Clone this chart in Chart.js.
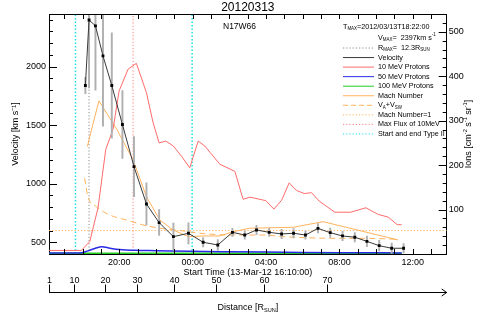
<!DOCTYPE html>
<html>
<head>
<meta charset="utf-8">
<script src="https://cdn.jsdelivr.net/npm/chart.js@4.4.1/dist/chart.umd.min.js"></script>
<style>
  html, body { margin: 0; padding: 0; background: #ffffff; }
  canvas { display: block; }
</style>
</head>
<body>
<canvas id="chart" width="496" height="327"></canvas>
<script>
// ---------------------------------------------------------------
// DATA (time in hours from 13-Mar-12 00:00)
// ---------------------------------------------------------------
const timeMin = 16.1667;
const timeMax = 37.85;
const velMin = 400;
const velMax = 2448;
const fluxMin = 0;
const fluxMax = 540;

const timeTickVals = [20, 24, 28, 32, 36];
const timeTickLabels = ['20:00', '00:00', '04:00', '08:00', '12:00'];
const velTickVals = [500, 1000, 1500, 2000];
const fluxTickVals = [100, 200, 300, 400, 500];

// speed from height-time points
const velTime = [18.15, 18.35, 18.70, 19.11, 19.59, 20.17, 20.80, 21.48, 22.17, 22.95, 23.77, 24.57, 25.37, 26.17,
                 26.84, 27.48, 28.17, 28.85, 29.50, 30.15, 30.83, 31.50, 32.17, 32.84, 33.50, 34.17, 34.85, 35.50];
const velocity = [1838, 2397, 2347, 2091, 1838, 1505, 1146, 827, 668, 548, 577, 500, 477, 585,
                  562, 605, 585, 571, 577, 562, 619, 582, 554, 543, 508, 471, 449, 449];
const velErr = [70, 580, 550, 600, 450, 290, 256, 180, 110, 115, 90, 40, 45, 35,
                35, 40, 35, 40, 40, 35, 40, 40, 40, 40, 45, 45, 45, 40];

// proton fluxes (right axis)
const p10Time = [16.17, 17.93, 18.39, 18.84, 19.26, 19.66, 19.99, 20.48, 20.93, 21.48, 21.84, 22.17, 22.53, 22.95,
                 23.39, 23.84, 24.30, 24.66, 25.48, 26.30, 26.75, 27.12, 27.99, 28.43, 28.85, 29.26, 29.66, 30.08,
                 30.48, 30.90, 31.75, 32.61, 33.44, 34.12, 34.66, 35.15, 35.39];
const p10Flux = [8, 8, 28, 104, 235, 281, 367, 416, 429, 363, 296, 250, 254, 243,
                 220, 194, 254, 243, 202, 186, 123, 128, 120, 101, 121, 160, 143, 136,
                 138, 119, 94, 94, 104, 89, 83, 66, 66];
const p50Time = [16.17, 17.8, 18.3, 18.7, 19.04, 19.5, 20.0, 21.1, 22.0, 23.8, 26.0, 29.0, 32.0, 35.4];
const p50Flux = [2, 2, 7, 13, 16.5, 13, 10, 8, 7.5, 6, 5, 4, 3, 2.5];
const p100Time = [16.17, 20.0, 25.0, 30.0, 35.4];
const p100Flux = [0.6, 0.6, 0.5, 0.5, 0.5];

// Mach number and Alfven + solar wind speed (velocity units)
const machTime = [18.26, 18.48, 18.89, 19.88, 20.75, 21.48, 22.21, 22.93, 23.77, 24.57, 25.48, 26.20, 27.11, 29.48, 31.11, 35.20];
const machVel = [1317, 1459, 1707, 1459, 1203, 889, 690, 605, 548, 554, 554, 590, 620, 628, 676, 520];
const vaTime = [18.11, 18.29, 18.75, 19.48, 20.39, 21.29, 22.21, 23.12, 24.39, 26.20, 27.85, 28.93, 30.2, 31.57, 33.3, 35.12];
const vaVel = [1047, 889, 804, 733, 690, 648, 620, 605, 577, 562, 562, 548, 539, 534, 534, 526];
const machOneVel = 600;

// event markers
const typeIITimes = [17.61, 23.97];
const rMaxTime = 18.35;
const maxFluxTime = 20.75;

// distance axis (R_sun) placed at times
const distLabels = ['1', '10', '20', '30', '40', '50', '60', '70'];
const distTimes = [16.17, 17.55, 19.20, 20.99, 22.97, 25.26, 27.88, 31.31];

// ---------------------------------------------------------------
// HELPERS
// ---------------------------------------------------------------
const FONT = '"Liberation Sans", Arial, Helvetica, sans-serif';
const zip = (xs, ys) => xs.map((x, i) => ({ x: x, y: ys[i] }));
const vline = t => [{ x: t, y: velMin }, { x: t, y: velMax }];

// text with sub / superscripts
function richText(ctx, parts, x, y, size, align) {
    let total = 0;
    ctx.textAlign = 'left';
    parts.forEach(p => {
        ctx.font = (p.sub || p.sup ? size * 0.62 : size) + 'px ' + FONT;
        p.w = ctx.measureText(p.t).width;
        total += p.w;
    });
    let cx = align === 'center' ? x - total / 2 : (align === 'right' ? x - total : x);
    parts.forEach(p => {
        const s = p.sub || p.sup ? size * 0.62 : size;
        ctx.font = s + 'px ' + FONT;
        const dy = p.sub ? size * 0.3 : (p.sup ? -size * 0.35 : 0);
        ctx.fillText(p.t, cx, y + dy);
        cx += p.w;
    });
    return total;
}

function seg(ctx, x1, y1, x2, y2) {
    ctx.beginPath();
    ctx.moveTo(x1, y1);
    ctx.lineTo(x2, y2);
    ctx.stroke();
}

// ---------------------------------------------------------------
// STYLES
// ---------------------------------------------------------------
const C = {
    vel: '#3a3a3a',
    err: '#b0b0b0',
    p10: '#ff6b6b',
    p50: '#2a2ae6',
    p100: '#22cc22',
    mach: '#ffb25c',
    cyan: '#1ee0e8',
    rmax: '#8c8c8c',
    maxFlux: '#ff7f7f'
};

const legendRows = [
    { parts: [{ t: 'R' }, { t: 'MAX', sub: true }, { t: '=  12.3R' }, { t: 'SUN', sub: true }], color: C.rmax, dash: [1.2, 2] },
    { parts: [{ t: 'Velocity' }], color: C.vel, dash: [] },
    { parts: [{ t: '10 MeV Protons' }], color: C.p10, dash: [] },
    { parts: [{ t: '50 MeV Protons' }], color: C.p50, dash: [] },
    { parts: [{ t: '100 MeV Protons' }], color: C.p100, dash: [] },
    { parts: [{ t: 'Mach Number' }], color: C.mach, dash: [] },
    { parts: [{ t: 'V' }, { t: 'A', sub: true }, { t: '+V' }, { t: 'SW', sub: true }], color: C.mach, dash: [5, 3] },
    { parts: [{ t: 'Mach Number=1' }], color: C.mach, dash: [1.2, 2] },
    { parts: [{ t: 'Max Flux of 10MeV' }], color: C.maxFlux, dash: [1.2, 2] },
    { parts: [{ t: 'Start and end Type II' }], color: C.cyan, dash: [1.2, 2] }
];

// ---------------------------------------------------------------
// PLUGIN: IDL-like frame, inward ticks, annotations, distance axis
// ---------------------------------------------------------------
const idlDecor = {
    id: 'idlDecor',
    afterDraw(chart) {
        const { ctx, chartArea: a, scales } = chart;
        const x = scales.x, y = scales.y, y2 = scales.y2;
        ctx.save();
        ctx.strokeStyle = '#000';
        ctx.fillStyle = '#000';
        ctx.lineWidth = 1;
        ctx.setLineDash([]);

        // top frame line
        seg(ctx, a.left, a.top + 0.5, a.right, a.top + 0.5);

        // hour ticks, bottom and top
        for (let h = 17; h <= 37; h++) {
            const px = Math.round(x.getPixelForValue(h)) + 0.5;
            seg(ctx, px, a.bottom, px, a.bottom - 5);
            seg(ctx, px, a.top, px, a.top + 5);
        }
        // velocity ticks (left)
        for (let v = 500; v <= 2400; v += 100) {
            const py = Math.round(y.getPixelForValue(v)) + 0.5;
            const len = v % 500 === 0 ? 8 : 4;
            seg(ctx, a.left, py, a.left + len, py);
        }
        // flux ticks (right)
        for (let f = 20; f <= 520; f += 20) {
            const py = Math.round(y2.getPixelForValue(f)) + 0.5;
            const len = f % 100 === 0 ? 8 : 4;
            seg(ctx, a.right, py, a.right - len, py);
        }

        // title and region
        ctx.textBaseline = 'middle';
        ctx.textAlign = 'center';
        ctx.font = '12px ' + FONT;
        ctx.fillText('20120313', (a.left + a.right) / 2, 8);
        ctx.textAlign = 'left';
        ctx.font = '8.5px ' + FONT;
        ctx.fillText('N17W66', 223, 27);

        // legend
        const fs = 7.2;
        richText(ctx, [{ t: 'T' }, { t: 'MAX', sub: true }, { t: '=2012/03/13T18:22:00' }], 343, 27, fs, 'left');
        richText(ctx, [{ t: 'V' }, { t: 'MAX', sub: true }, { t: '=  2397km s' }, { t: '-1', sup: true }], 378, 37.7, fs, 'left');
        legendRows.forEach((r, i) => {
            const ly = 48 + i * 9.55;
            ctx.strokeStyle = r.color;
            ctx.lineWidth = 1;
            ctx.setLineDash(r.dash);
            seg(ctx, 343, ly, 374, ly);
            ctx.setLineDash([]);
            ctx.fillStyle = '#000';
            richText(ctx, r.parts, 378, ly, fs, 'left');
        });

        // right axis title (reads bottom to top)
        ctx.save();
        ctx.translate(469, (a.top + a.bottom) / 2);
        ctx.rotate(-Math.PI / 2);
        ctx.fillStyle = '#000';
        richText(ctx, [{ t: 'Ions [cm' }, { t: '-2', sup: true }, { t: ' s' }, { t: '-1', sup: true },
                       { t: ' sr' }, { t: '-1', sup: true }, { t: ']' }], 0, 0, 9, 'center');
        ctx.restore();

        // distance axis
        const dy = 292.5;
        ctx.strokeStyle = '#000';
        ctx.lineWidth = 1;
        seg(ctx, a.left, dy, a.right, dy);
        seg(ctx, a.right, dy, a.right - 5, dy - 3.5);
        seg(ctx, a.right, dy, a.right - 5, dy + 3.5);
        ctx.font = '9px ' + FONT;
        distTimes.forEach((t, i) => {
            const px = Math.round(x.getPixelForValue(t)) + 0.5;
            seg(ctx, px, dy, px, dy - 8);
            ctx.textAlign = 'center';
            ctx.fillText(distLabels[i], px, dy - 12);
        });
        richText(ctx, [{ t: 'Distance [R' }, { t: 'SUN', sub: true }, { t: ']' }], (a.left + a.right) / 2, 308, 9, 'center');

        ctx.restore();
    }
};

// ---------------------------------------------------------------
// CHART
// ---------------------------------------------------------------
const errBars = velTime.map((t, i) => ({ x: t, y: [velocity[i] - velErr[i], velocity[i] + velErr[i]] }));
const plainLabel = v => String(v);

new Chart(document.getElementById('chart').getContext('2d'), {
    type: 'line',
    data: {
        datasets: [
            {
                label: 'Velocity', data: zip(velTime, velocity), yAxisID: 'y',
                borderColor: C.vel, borderWidth: 1, pointStyle: 'rect', pointRadius: 2,
                pointBackgroundColor: '#000', pointBorderColor: '#000', pointBorderWidth: 0
            },
            {
                type: 'bar', label: 'Error', data: errBars, yAxisID: 'y',
                backgroundColor: C.err, barThickness: 1.3, grouped: false
            },
            {
                label: '10 MeV Protons', data: zip(p10Time, p10Flux), yAxisID: 'y2',
                borderColor: C.p10, borderWidth: 1, pointRadius: 0
            },
            {
                label: '50 MeV Protons', data: zip(p50Time, p50Flux), yAxisID: 'y2',
                borderColor: C.p50, borderWidth: 1.5, pointRadius: 0, cubicInterpolationMode: 'monotone'
            },
            {
                label: '100 MeV Protons', data: zip(p100Time, p100Flux), yAxisID: 'y2',
                borderColor: C.p100, borderWidth: 2.5, pointRadius: 0
            },
            {
                label: 'Mach Number', data: zip(machTime, machVel), yAxisID: 'y',
                borderColor: C.mach, borderWidth: 1, pointRadius: 0
            },
            {
                label: 'VA+VSW', data: zip(vaTime, vaVel), yAxisID: 'y',
                borderColor: C.mach, borderWidth: 1, borderDash: [6, 4], pointRadius: 0,
                cubicInterpolationMode: 'monotone'
            },
            {
                label: 'Mach Number=1', data: [{ x: timeMin, y: machOneVel }, { x: timeMax, y: machOneVel }], yAxisID: 'y',
                borderColor: C.mach, borderWidth: 1, borderDash: [1.2, 2], pointRadius: 0
            },
            {
                label: 'Max Flux of 10MeV', data: vline(maxFluxTime), yAxisID: 'y',
                borderColor: C.maxFlux, borderWidth: 1, borderDash: [1.2, 2], pointRadius: 0
            },
            {
                label: 'R max', data: vline(rMaxTime), yAxisID: 'y',
                borderColor: C.rmax, borderWidth: 1, borderDash: [1.2, 2], pointRadius: 0
            },
            {
                label: 'Type II start', data: vline(typeIITimes[0]), yAxisID: 'y',
                borderColor: C.cyan, borderWidth: 1.5, borderDash: [1.5, 2], pointRadius: 0
            },
            {
                label: 'Type II end', data: vline(typeIITimes[1]), yAxisID: 'y',
                borderColor: C.cyan, borderWidth: 1.5, borderDash: [1.5, 2], pointRadius: 0
            }
        ]
    },
    options: {
        responsive: false,
        animation: false,
        layout: { padding: { left: 0, right: 0, top: 14, bottom: 49 } },
        plugins: {
            legend: { display: false },
            tooltip: { enabled: false },
            title: { display: false }
        },
        scales: {
            x: {
                type: 'linear', position: 'bottom', min: timeMin, max: timeMax, offset: false,
                grid: { display: false, drawTicks: false },
                border: { display: true, color: '#000', width: 1 },
                afterBuildTicks: s => { s.ticks = timeTickVals.map(v => ({ value: v })); },
                afterFit: s => { s.height = 24; },
                ticks: {
                    autoSkip: false, maxRotation: 0, padding: 3, color: '#000',
                    font: { family: FONT, size: 9 },
                    callback: v => timeTickLabels[timeTickVals.indexOf(v)]
                },
                title: {
                    display: true, text: 'Start Time (13-Mar-12 16:10:00)', color: '#000',
                    font: { family: FONT, size: 9 }, padding: { top: 0, bottom: 0 }
                }
            },
            y: {
                type: 'linear', position: 'left', min: velMin, max: velMax,
                grid: { display: false, drawTicks: false },
                border: { display: true, color: '#000', width: 1 },
                afterBuildTicks: s => { s.ticks = velTickVals.map(v => ({ value: v })); },
                afterFit: s => { s.width = 49; },
                ticks: { autoSkip: false, padding: 3, color: '#000', font: { family: FONT, size: 9 }, callback: plainLabel },
                title: {
                    display: true, text: 'Velocity [km s\u207B\u00B9]', color: '#000',
                    font: { family: FONT, size: 9 }, padding: { top: 10, bottom: 0 }
                }
            },
            y2: {
                type: 'linear', position: 'right', min: fluxMin, max: fluxMax,
                grid: { display: false, drawTicks: false },
                border: { display: true, color: '#000', width: 1 },
                afterBuildTicks: s => { s.ticks = fluxTickVals.map(v => ({ value: v })); },
                afterFit: s => { s.width = 49.3; },
                ticks: { autoSkip: false, padding: 2, color: '#000', font: { family: FONT, size: 9 }, callback: plainLabel }
            }
        }
    },
    plugins: [idlDecor]
});
</script>
</body>
</html>
